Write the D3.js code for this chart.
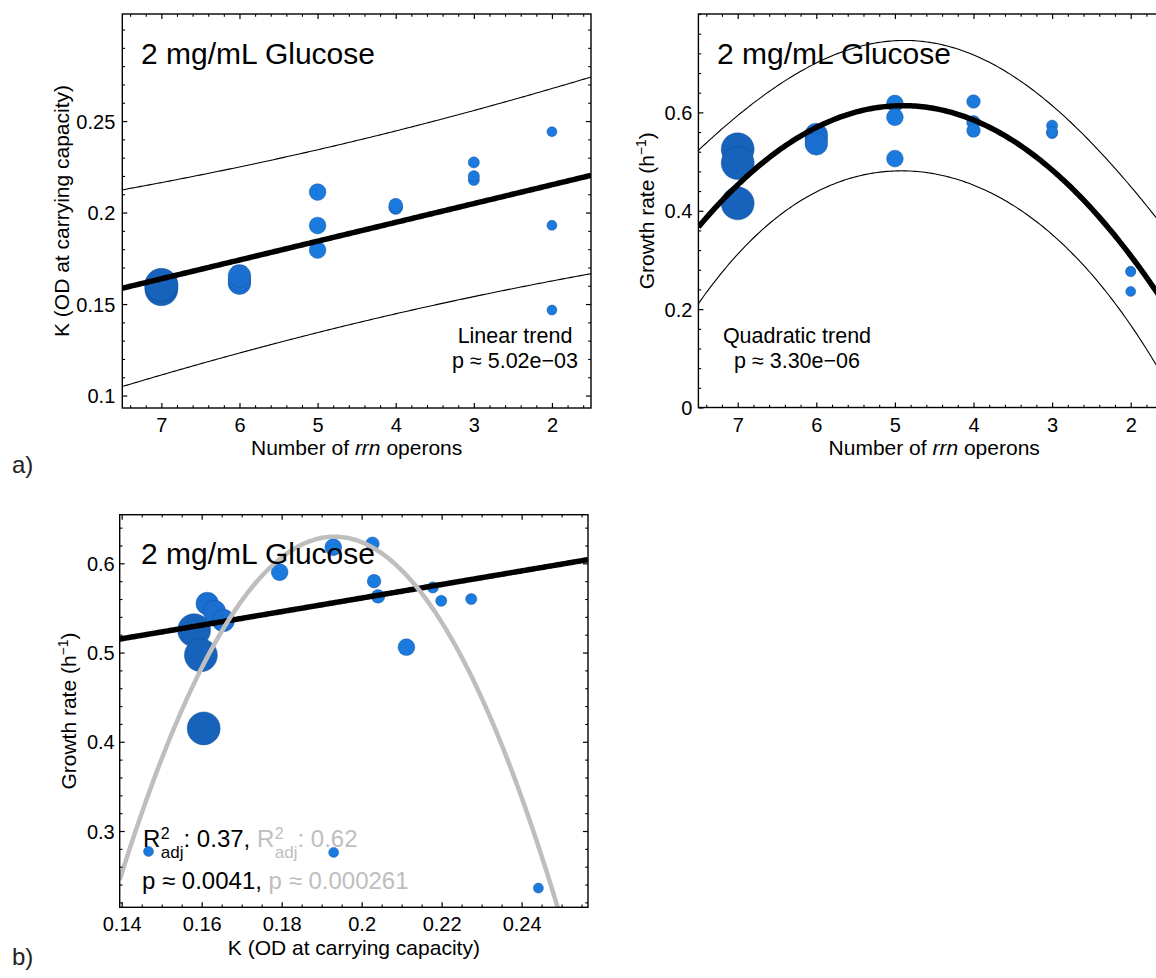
<!DOCTYPE html>
<html>
<head>
<meta charset="utf-8">
<script src="https://cdn.jsdelivr.net/npm/d3@7"></script>
<style>
  body { margin: 0; background: #fff; }
  svg { display: block; font-family: "Liberation Sans", Arial, Helvetica, sans-serif; }
</style>
</head>
<body>
<svg id="fig" width="1156" height="978"></svg>
<script>
// One entry per strain: rrn operon count, carrying capacity K and growth rate (2 mg/mL glucose)
const operons    = [7, 7, 7, 6, 6, 6, 5, 5, 5, 4, 4, 4, 3, 3, 3, 2, 2, 2];
const carryingK  = [0.1581, 0.1598, 0.1605, 0.1614, 0.1632, 0.1654, 0.1929, 0.1795, 0.2112,
                    0.2027, 0.2031, 0.2041, 0.2178, 0.2199, 0.2274, 0.1467, 0.1930, 0.2442];
const growthRate = [0.525, 0.497, 0.415, 0.555, 0.546, 0.536, 0.618, 0.590, 0.506,
                    0.622, 0.580, 0.563, 0.573, 0.558, 0.560, 0.277, 0.276, 0.236];

// Growth rate vs K fits (polynomial coefficients, constant term first)
const linearFitB    = [0.4091, 0.76];
const quadraticFitB = [-4.3495, 51.546, -133.4];

// Axis ticks
const rrnTicks      = [7, 6, 5, 4, 3, 2];
const kTicksA       = [0.1, 0.15, 0.2, 0.25];
const growthTicksA  = [0, 0.2, 0.4, 0.6];
const kTicksB       = [0.14, 0.16, 0.18, 0.2, 0.22, 0.24];
const growthTicksB  = [0.3, 0.4, 0.5, 0.6];

// Text
const conditionLabel = "2 mg/mL Glucose";
const linearNote     = ["Linear trend", "p \u2248 5.02e\u221203"];
const quadNote       = ["Quadratic trend", "p \u2248 3.30e\u221206"];
const linearStats    = { r2: "0.37", p: "0.0041" };
const quadStats      = { r2: "0.62", p: "0.000261" };

// Two-sided 95% Student t quantiles, keyed by residual degrees of freedom
const t95 = { 16: 2.1199, 15: 2.1314 };

// ---------- least-squares polynomial fit with 95% prediction band ----------
function invert(m) {
  const n = m.length;
  const a = m.map((r, i) => r.concat(d3.range(n).map(j => (i === j ? 1 : 0))));
  for (let c = 0; c < n; c++) {
    let piv = c;
    for (let r = c + 1; r < n; r++) if (Math.abs(a[r][c]) > Math.abs(a[piv][c])) piv = r;
    [a[c], a[piv]] = [a[piv], a[c]];
    const d = a[c][c];
    for (let j = 0; j < 2 * n; j++) a[c][j] /= d;
    for (let r = 0; r < n; r++) {
      if (r === c) continue;
      const f = a[r][c];
      for (let j = 0; j < 2 * n; j++) a[r][j] -= f * a[c][j];
    }
  }
  return a.map(r => r.slice(n));
}

function polyfit(xs, ys, degree) {
  const p = degree + 1, n = xs.length;
  const row = x => d3.range(p).map(k => Math.pow(x, k));
  const XtX = d3.range(p).map(() => new Array(p).fill(0));
  const Xty = new Array(p).fill(0);
  xs.forEach((x, i) => {
    const r = row(x);
    for (let a = 0; a < p; a++) {
      Xty[a] += r[a] * ys[i];
      for (let b = 0; b < p; b++) XtX[a][b] += r[a] * r[b];
    }
  });
  const inv = invert(XtX);
  const beta = inv.map(r => r.reduce((s, v, j) => s + v * Xty[j], 0));
  const predict = x => row(x).reduce((s, v, k) => s + v * beta[k], 0);
  const df = n - p;
  const s2 = d3.sum(xs, (x, i) => (ys[i] - predict(x)) ** 2) / df;
  const band = x => {
    const r = row(x);
    let q = 0;
    for (let a = 0; a < p; a++) for (let b = 0; b < p; b++) q += r[a] * inv[a][b] * r[b];
    return t95[df] * Math.sqrt(s2 * (1 + q));
  };
  return { predict, band };
}

const polynomial = coeffs => x => coeffs.reduce((s, c, k) => s + c * Math.pow(x, k), 0);

// ---------- shared styling ----------
const svg = d3.select("#fig");
const markerRadius = d3.scaleOrdinal().domain([7, 6, 5, 4, 3, 2]).range([16.5, 11.3, 8.4, 6.8, 5.6, 5.0]);
const markerFill = d3.scaleOrdinal().domain([7, 6, 5, 4, 3, 2])
  .range(["#1762bb", "#1a6fd1", "#1b7ade", "#1b7ade", "#1b7ade", "#1b7ade"]);
const GREY = "#bebebe";
const LABEL_PX = "21px";
const TICK_PX = "20px";

function minorTicks(domain, step, majors) {
  const lo = Math.min(...domain), hi = Math.max(...domain);
  return d3.range(Math.ceil(lo / step - 1e-9), Math.floor(hi / step + 1e-9) + 1)
    .map(k => +(k * step).toFixed(6))
    .filter(v => !majors.some(m => Math.abs(m - v) < 1e-9));
}

let clipId = 0;
function makePanel(cfg) {
  const { left, right, top, bottom } = cfg.frame;
  const x = d3.scaleLinear().domain(cfg.xDomain).range([left, right]);
  const y = d3.scaleLinear().domain(cfg.yDomain).range([bottom, top]);
  const g = svg.append("g");
  const id = "clip" + (clipId++);
  g.append("clipPath").attr("id", id).append("rect")
    .attr("x", left).attr("y", top).attr("width", right - left).attr("height", bottom - top);
  const plot = g.append("g").attr("clip-path", `url(#${id})`);

  // inward ticks on all four sides
  const xMinor = minorTicks(cfg.xDomain, cfg.xMinorStep, cfg.xTicks);
  const yMinor = minorTicks(cfg.yDomain, cfg.yMinorStep, cfg.yTicks);
  const axes = [
    [d3.axisBottom(x), `translate(0,${bottom})`, cfg.xTicks, xMinor, true],
    [d3.axisTop(x), `translate(0,${top})`, cfg.xTicks, xMinor, false],
    [d3.axisLeft(y), `translate(${left},0)`, cfg.yTicks, yMinor, true],
    [d3.axisRight(y), `translate(${right},0)`, cfg.yTicks, yMinor, false]
  ];
  axes.forEach(([axis, tr, major, minor, labelled], i) => {
    const gm = g.append("g").attr("transform", tr)
      .call(axis.tickValues(minor).tickSize(-2.8).tickSizeOuter(0).tickFormat(""));
    gm.select(".domain").remove();
    const gM = g.append("g").attr("transform", tr)
      .call(axis.tickValues(major).tickSize(-5).tickSizeOuter(0).tickFormat(d => String(d)).tickPadding(6));
    gM.select(".domain").remove();
    gm.selectAll("line, path").attr("stroke", "#000").attr("stroke-width", 1.1);
    gM.selectAll("line").attr("stroke", "#000").attr("stroke-width", 1.2);
    gM.attr("font-family", null).attr("font-size", null);
    if (!labelled) gM.selectAll("text").remove();
    else if (i === 0) gM.selectAll("text").attr("y", 24).attr("dy", null)
      .style("font-size", TICK_PX).attr("fill", "#000");
    else gM.selectAll("text").attr("dy", "0.35em").attr("x", -cfg.yLabelGap)
      .style("font-size", TICK_PX).attr("fill", "#000");
  });

  // frame
  g.append("rect").attr("x", left).attr("y", top).attr("width", right - left).attr("height", bottom - top)
    .attr("fill", "none").attr("stroke", "#000").attr("stroke-width", 1.4);

  // axis titles
  const xt = g.append("text").attr("x", (left + right) / 2).attr("y", cfg.xTitleY)
    .attr("text-anchor", "middle").style("font-size", LABEL_PX);
  cfg.xTitle.forEach(([t, italic]) => xt.append("tspan").style("font-style", italic ? "italic" : null).text(t));
  const yt = g.append("text").attr("transform", `translate(${cfg.yTitleX},${(top + bottom) / 2}) rotate(-90)`)
    .attr("text-anchor", "middle").style("font-size", LABEL_PX);
  let raised = false;
  cfg.yTitle.forEach(([t, sup]) => {
    const ts = yt.append("tspan").text(t);
    if (sup) { ts.attr("dy", -8).style("font-size", "14px"); raised = true; }
    else if (raised) { ts.attr("dy", 8); raised = false; }
  });

  return { g, plot, x, y };
}

function drawMarkers(layer, xs, ys, x, y) {
  layer.append("g").selectAll("circle").data(operons).join("circle")
    .attr("cx", (d, i) => x(xs[i])).attr("cy", (d, i) => y(ys[i]))
    .attr("r", d => markerRadius(d))
    .attr("fill", d => markerFill(d))
    .attr("stroke", "#0e4a95").attr("stroke-opacity", 0.45).attr("stroke-width", 0.9);
}

function drawCurve(layer, f, domain, x, y, color, width) {
  const lo = Math.min(...domain), hi = Math.max(...domain);
  const pts = d3.range(0, 201).map(k => lo + (hi - lo) * k / 200);
  layer.append("path").datum(pts)
    .attr("d", d3.line().x(d => x(d)).y(d => y(f(d))))
    .attr("fill", "none").attr("stroke", color).attr("stroke-width", width)
    .attr("stroke-linejoin", "round");
}

function conditionTitle(g, xPos, yPos) {
  g.append("text").attr("x", xPos).attr("y", yPos).style("font-size", "30px").text(conditionLabel);
}

function centredNote(g, cx, lines) {
  lines.forEach((t, i) => g.append("text").attr("x", cx).attr("y", 343 + i * 25)
    .attr("text-anchor", "middle").style("font-size", "21.5px").text(t));
}

// ---------- a) left: K vs rrn operons, linear trend ----------
{
  const P = makePanel({
    frame: { left: 122.3, right: 591, top: 14, bottom: 408 },
    xDomain: [7.5, 1.5], yDomain: [0.0932, 0.3085],
    xTicks: rrnTicks, yTicks: kTicksA, xMinorStep: 0.2, yMinorStep: 0.01, yLabelGap: 7,
    xTitle: [["Number of "], ["rrn", true], [" operons"]], xTitleY: 455,
    yTitle: [["K (OD at carrying capacity)"]], yTitleX: 69
  });
  const fit = polyfit(operons, carryingK, 1);
  drawMarkers(P.plot, operons, carryingK, P.x, P.y);
  drawCurve(P.plot, n => fit.predict(n) + fit.band(n), [1.5, 7.5], P.x, P.y, "#000", 1.1);
  drawCurve(P.plot, n => fit.predict(n) - fit.band(n), [1.5, 7.5], P.x, P.y, "#000", 1.1);
  drawCurve(P.plot, fit.predict, [1.5, 7.5], P.x, P.y, "#000", 5.5);
  conditionTitle(P.g, 141, 64);
  centredNote(P.g, 515, linearNote);
}

// ---------- a) right: growth rate vs rrn operons, quadratic trend ----------
{
  const P = makePanel({
    frame: { left: 698.4, right: 1170, top: 14, bottom: 407.5 },
    xDomain: [7.5, 1.5], yDomain: [0, 0.8],
    xTicks: rrnTicks, yTicks: growthTicksA, xMinorStep: 0.2, yMinorStep: 0.04, yLabelGap: 6,
    xTitle: [["Number of "], ["rrn", true], [" operons"]], xTitleY: 455,
    yTitle: [["Growth rate (h"], ["\u22121", true], [")"]], yTitleX: 654
  });
  const fit = polyfit(operons, growthRate, 2);
  drawMarkers(P.plot, operons, growthRate, P.x, P.y);
  drawCurve(P.plot, n => fit.predict(n) + fit.band(n), [1.5, 7.5], P.x, P.y, "#000", 1.1);
  drawCurve(P.plot, n => fit.predict(n) - fit.band(n), [1.5, 7.5], P.x, P.y, "#000", 1.1);
  drawCurve(P.plot, fit.predict, [1.5, 7.5], P.x, P.y, "#000", 5.5);
  conditionTitle(P.g, 717, 64);
  centredNote(P.g, 797, quadNote);
}

// ---------- b) growth rate vs K, linear (black) and quadratic (grey) fits ----------
{
  const P = makePanel({
    frame: { left: 119.7, right: 588, top: 514.7, bottom: 907.3 },
    xDomain: [0.1395, 0.2566], yDomain: [0.2145, 0.6545],
    xTicks: kTicksB, yTicks: growthTicksB, xMinorStep: 0.005, yMinorStep: 0.02, yLabelGap: 5,
    xTitle: [["K (OD at carrying capacity)"]], xTitleY: 955,
    yTitle: [["Growth rate (h"], ["\u22121", true], [")"]], yTitleX: 76
  });
  drawMarkers(P.plot, carryingK, growthRate, P.x, P.y);
  drawCurve(P.plot, polynomial(linearFitB), P.x.domain(), P.x, P.y, "#000", 5.5);
  drawCurve(P.plot, polynomial(quadraticFitB), P.x.domain(), P.x, P.y, GREY, 4.5);
  conditionTitle(P.g, 141, 564);

  // adjusted R² and p-values for both fits
  const rAdj = (xPos, yPos, color) => {
    const R = P.g.append("text").attr("x", xPos).attr("y", yPos).attr("fill", color)
      .style("font-size", "24px").text("R");
    const xs = xPos + R.node().getComputedTextLength() + 0.5;
    const sup = P.g.append("text").attr("x", xs).attr("y", yPos - 8).attr("fill", color)
      .style("font-size", "16px").text("2");
    const sub = P.g.append("text").attr("x", xs).attr("y", yPos + 11).attr("fill", color)
      .style("font-size", "17px").text("adj");
    return xs + Math.max(sup.node().getComputedTextLength(), sub.node().getComputedTextLength());
  };
  const line1 = 847;
  let cx = rAdj(143, line1, "#000");
  const a = P.g.append("text").attr("x", cx).attr("y", line1).style("font-size", "24px")
    .attr("xml:space", "preserve").text(`: ${linearStats.r2}, `);
  cx += a.node().getComputedTextLength();
  cx = rAdj(cx, line1, GREY);
  P.g.append("text").attr("x", cx).attr("y", line1).attr("fill", GREY).style("font-size", "24px")
    .text(`: ${quadStats.r2}`);

  const l2 = P.g.append("text").attr("x", 142).attr("y", 889).style("font-size", "24px")
    .attr("xml:space", "preserve");
  l2.append("tspan").text(`p \u2248 ${linearStats.p}, `);
  l2.append("tspan").attr("fill", GREY).text(`p \u2248 ${quadStats.p}`);
}

// panel letters
svg.append("text").attr("x", 12).attr("y", 473).attr("fill", "#222").style("font-size", "24px").text("a)");
svg.append("text").attr("x", 12).attr("y", 965).attr("fill", "#222").style("font-size", "24px").text("b)");
</script>
</body>
</html>
